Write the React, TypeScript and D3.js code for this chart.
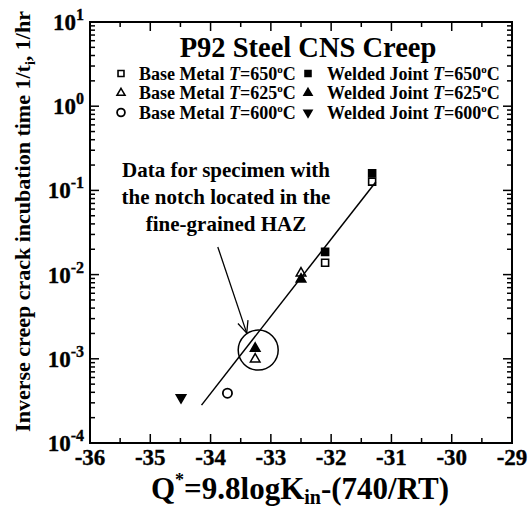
import React from "react";
import * as d3 from "d3";

// ---------- data ----------
const baseMetal650X = [-32.1, -31.32];
const baseMetal650Y = [0.0138, 0.127];
const welded650X = [-32.1, -31.32];
const welded650Y = [0.0186, 0.16];
const baseMetal625X = [-32.5, -33.26];
const baseMetal625Y = [0.0104, 0.00099];
const welded625X = [-32.5, -33.26];
const welded625Y = [0.0088, 0.00133];
const baseMetal600X = [-33.72];
const baseMetal600Y = [0.00039];
const welded600X = [-34.49];
const welded600Y = [0.000347];

const fitLineX = [-34.15, -31.26];
const fitLineY = [0.000282, 0.126];

const hazCircle = { x: -33.21, y: 0.00127 };
const arrowFrom = { x: -33.88, y: 0.0213 };
const arrowTo = { x: -33.4, y: 0.00202 };

const xTicks = [-36, -35, -34, -33, -32, -31, -30, -29];
const yExponents = [1, 0, -1, -2, -3, -4];

const titleText = "P92 Steel CNS Creep";
const noteLines = ["Data for specimen with", "the notch located in the", "fine-grained HAZ"];
const legendTemps = ["650", "625", "600"];

// ---------- layout ----------
const W = 532;
const H = 509;
const L = 90;
const R = 512;
const T = 22;
const B = 443;
const FONT = "'Liberation Serif', 'Times New Roman', serif";

const x = d3.scaleLinear().domain([-36, -29]).range([L, R]);
const y = d3.scaleLog().domain([1e-4, 10]).range([B, T]);

type Kind = "sqOpen" | "sqFill" | "triOpen" | "triFill" | "circOpen" | "triDownFill";

function Marker({ cx, cy, kind, s = 1 }: { cx: number; cy: number; kind: Kind; s?: number }) {
  const fillOpen = "white";
  if (kind === "sqOpen" || kind === "sqFill") {
    const p = d3.symbol().type(d3.symbolSquare).size(49 * s * s)()!;
    return (
      <path d={p} transform={`translate(${cx},${cy})`} fill={kind === "sqFill" ? "black" : fillOpen}
        stroke="black" strokeWidth={1.6} />
    );
  }
  if (kind === "triOpen" || kind === "triFill" || kind === "triDownFill") {
    const p = d3.symbol().type(d3.symbolTriangle).size(40 * s * s)()!;
    const rot = kind === "triDownFill" ? 180 : 0;
    return (
      <path d={p} transform={`translate(${cx},${cy}) rotate(${rot})`}
        fill={kind === "triOpen" ? fillOpen : "black"} stroke="black" strokeWidth={1.5}
        strokeLinejoin="miter" />
    );
  }
  return <circle cx={cx} cy={cy} r={4.6 * s} fill={fillOpen} stroke="black" strokeWidth={1.8} />;
}

function Series({ xs, ys, kind }: { xs: number[]; ys: number[]; kind: Kind }) {
  return (
    <g>
      {xs.map((v, i) => (
        <Marker key={i} cx={x(v)} cy={y(ys[i])} kind={kind} />
      ))}
    </g>
  );
}

export default function App() {
  const xMinor = d3.range(-35.5, -29, 1);
  const yMinor: number[] = [];
  for (let e = -4; e < 1; e++) for (let m = 2; m <= 9; m++) yMinor.push(m * Math.pow(10, e));

  const fitPath = d3
    .line<number>()
    .x((d) => x(fitLineX[d]))
    .y((d) => y(fitLineY[d]))([0, 1])!;

  const ax1 = x(arrowFrom.x), ay1 = y(arrowFrom.y), ax2 = x(arrowTo.x), ay2 = y(arrowTo.y);
  const ang = Math.atan2(ay2 - ay1, ax2 - ax1);
  const hl = 13, ha = 0.42;
  const h1 = [ax2 - hl * Math.cos(ang - ha), ay2 - hl * Math.sin(ang - ha)];
  const h2 = [ax2 - hl * Math.cos(ang + ha), ay2 - hl * Math.sin(ang + ha)];

  const legendRows: [Kind, Kind][] = [
    ["sqOpen", "sqFill"],
    ["triOpen", "triFill"],
    ["circOpen", "triDownFill"],
  ];
  const legendY0 = 73.5;
  const legendDy = 19.5;

  return (
    <svg width={W} height={H} style={{ position: "absolute", left: 0, top: 0, background: "white" }}
      fontFamily={FONT} fontWeight="bold">
      <rect x={0} y={0} width={W} height={H} fill="white" />

      {/* ticks */}
      <g stroke="black" strokeWidth={1.5}>
        {xTicks.map((t) => (
          <g key={"xM" + t}>
            <line x1={x(t)} x2={x(t)} y1={B} y2={B - 9} />
            <line x1={x(t)} x2={x(t)} y1={T} y2={T + 9} />
          </g>
        ))}
        {xMinor.map((t) => (
          <g key={"xm" + t}>
            <line x1={x(t)} x2={x(t)} y1={B} y2={B - 5} />
            <line x1={x(t)} x2={x(t)} y1={T} y2={T + 5} />
          </g>
        ))}
        {yExponents.map((e) => (
          <g key={"yM" + e}>
            <line x1={L} x2={L + 9} y1={y(Math.pow(10, e))} y2={y(Math.pow(10, e))} />
            <line x1={R} x2={R - 9} y1={y(Math.pow(10, e))} y2={y(Math.pow(10, e))} />
          </g>
        ))}
        {yMinor.map((v, i) => (
          <g key={"ym" + i}>
            <line x1={L} x2={L + 5} y1={y(v)} y2={y(v)} />
            <line x1={R} x2={R - 5} y1={y(v)} y2={y(v)} />
          </g>
        ))}
      </g>
      <rect x={L} y={T} width={R - L} height={B - T} fill="none" stroke="black" strokeWidth={2} />

      {/* x tick labels */}
      {xTicks.map((t) => (
        <text key={"xl" + t} x={x(t)} y={B + 22} textAnchor="middle" fontSize={23} fontWeight="bold"
          stroke="black" strokeWidth={0.35}>
          {t}
        </text>
      ))}
      {/* y tick labels */}
      {yExponents.map((e) => (
        <text key={"yl" + e} x={L - 6} y={y(Math.pow(10, e)) + 8} textAnchor="end" fontSize={23} fontWeight="bold"
          stroke="black" strokeWidth={0.35}>
          10
          <tspan fontSize={16} dy={-10}>{e}</tspan>
        </text>
      ))}

      {/* axis titles */}
      <text x={300} y={499} textAnchor="middle" fontSize={31} fontWeight="bold">
        Q<tspan fontSize={18} dy={-13}>*</tspan>
        <tspan dy={13}>=9.8logK</tspan>
        <tspan fontSize={20} dy={5}>in</tspan>
        <tspan dy={-5}>-(740/RT)</tspan>
      </text>
      <text transform={`translate(30,${(T + B) / 2 - 11}) rotate(-90)`} textAnchor="middle" fontSize={22} fontWeight="bold">
        Inverse creep crack incubation time 1/t<tspan fontSize={14} dy={5}>i</tspan>
        <tspan dy={-5}>, 1/hr</tspan>
      </text>

      {/* title & legend */}
      <text x={308} y={57} textAnchor="middle" fontSize={28.5} fontWeight="bold">
        {titleText}
      </text>
      {legendRows.map(([k1, k2], i) => {
        const cy = legendY0 + i * legendDy;
        return (
          <g key={"lg" + i}>
            <Marker cx={121} cy={cy} kind={k1} s={0.85} />
            <text x={139} y={cy + 6} fontSize={18} fontWeight="bold">
              Base Metal <tspan fontStyle="italic">T</tspan>={legendTemps[i]}
              <tspan fontSize={11} dy={-7}>o</tspan>
              <tspan dy={7}>C</tspan>
            </text>
            <Marker cx={308} cy={cy} kind={k2} s={0.85} />
            <text x={327} y={cy + 6} fontSize={18} fontWeight="bold">
              Welded Joint <tspan fontStyle="italic">T</tspan>={legendTemps[i]}
              <tspan fontSize={11} dy={-7}>o</tspan>
              <tspan dy={7}>C</tspan>
            </text>
          </g>
        );
      })}

      {/* annotation */}
      {noteLines.map((s, i) => (
        <text key={"n" + i} x={226} y={177 + i * 27} textAnchor="middle" fontSize={21} fontWeight="bold">
          {s}
        </text>
      ))}
      <g stroke="black" strokeWidth={1.3} fill="none">
        <line x1={ax1} y1={ay1} x2={ax2} y2={ay2} />
        <polyline points={`${h1[0]},${h1[1]} ${ax2},${ay2} ${h2[0]},${h2[1]}`} />
      </g>
      <circle cx={x(hazCircle.x)} cy={y(hazCircle.y)} r={20} fill="none" stroke="black" strokeWidth={1.5} />

      {/* data */}
      <Series xs={baseMetal650X} ys={baseMetal650Y} kind="sqOpen" />
      <Series xs={welded650X} ys={welded650Y} kind="sqFill" />
      <Series xs={baseMetal625X} ys={baseMetal625Y} kind="triOpen" />
      <Series xs={welded625X} ys={welded625Y} kind="triFill" />
      <Series xs={baseMetal600X} ys={baseMetal600Y} kind="circOpen" />
      <Series xs={welded600X} ys={welded600Y} kind="triDownFill" />

      <path d={fitPath} fill="none" stroke="black" strokeWidth={1.5} />
    </svg>
  );
}
